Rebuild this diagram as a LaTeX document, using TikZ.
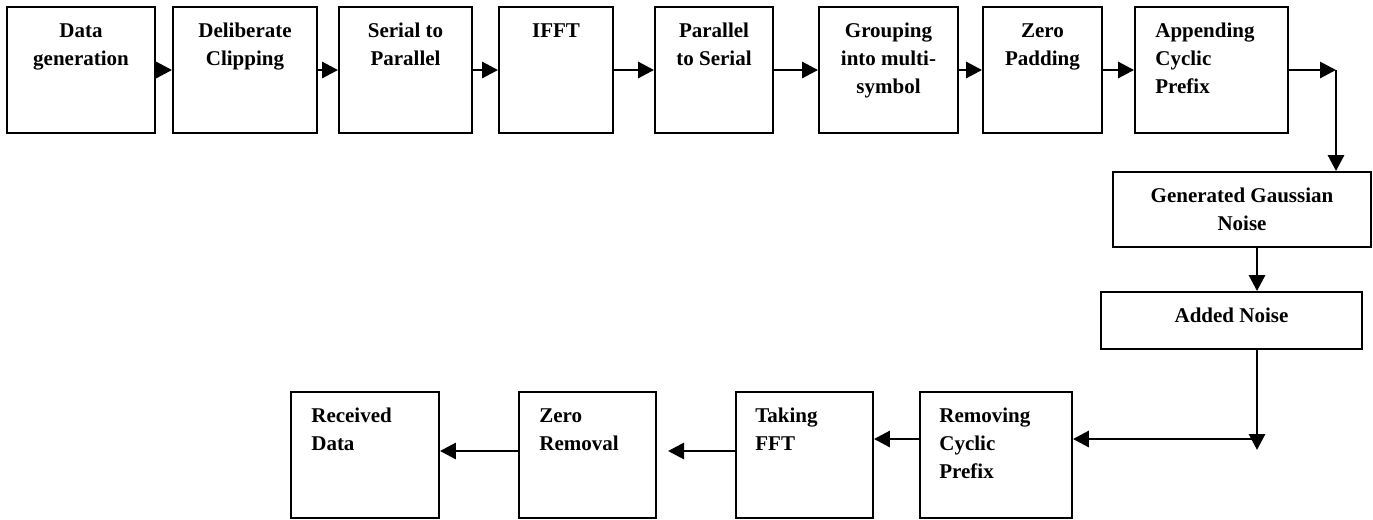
\documentclass[tikz,border=0pt]{standalone}
\usepackage{fontspec}
\setmainfont{Liberation Serif}
\usetikzlibrary{arrows.meta,fit}
\newcommand\mybx[5]{\node[box,fit={(#2,#3) (#4,#5)}] (#1) {};}
\begin{document}
\begin{tikzpicture}[x=0.75pt,y=-0.75pt,
 box/.style={draw,line width=1.4pt,inner sep=0pt},
 lbl/.style={inner sep=0pt,font=\fontsize{15.75}{21}\selectfont\bfseries},
 ctext/.style={lbl,anchor=north,align=center},
 ltext/.style={lbl,anchor=north west,align=left},
 arr/.style={line width=2.2pt,-{Triangle[length=12pt,width=12pt]}}]
\useasboundingbox (0,0) rectangle (1373,519);
% top row
\mybx{b1}{7}{7}{155}{133}
\mybx{b2}{173}{7}{317}{133}
\mybx{b3}{339}{7}{472}{133}
\mybx{b4}{499}{7}{613}{133}
\mybx{b5}{655}{7}{773}{133}
\mybx{b6}{819}{7}{958}{133}
\mybx{b7}{983}{7}{1102}{133}
\mybx{b8}{1135}{7}{1288}{133}
% right column
\mybx{g}{1113}{172}{1371}{247}
\mybx{n}{1101}{292}{1362}{349}
% bottom row
\mybx{rd}{291}{392}{439}{518}
\mybx{zr}{519}{392}{656}{518}
\mybx{tk}{736}{392}{873}{518}
\mybx{rm}{920}{392}{1072}{518}
% texts
\node[ctext] (t1) at ([yshift=-8.5pt]b1.north) {\strut Data\\generation};
\node[ctext] (t2) at ([yshift=-8.5pt]b2.north) {\strut Deliberate\\Clipping};
\node[ctext] (t3) at ([yshift=-8.5pt]b3.north) {\strut Serial to\\Parallel};
\node[ctext] (t4) at ([yshift=-8.5pt]b4.north) {\strut IFFT};
\node[ctext] (t5) at ([yshift=-8.5pt]b5.north) {\strut Parallel\\to Serial};
\node[ctext] (t6) at ([yshift=-8.5pt]b6.north) {\strut Grouping\\into multi-\\symbol};
\node[ctext] (t7) at ([yshift=-8.5pt]b7.north) {\strut Zero\\Padding};
\node[ltext] (t8) at ([xshift=15.75pt,yshift=-8.5pt]b8.north west) {\strut Appending\\Cyclic\\Prefix};
\node[ctext] (tg) at ([yshift=-8.5pt]g.north) {\strut Generated Gaussian\\Noise};
\node[ctext] (tn) at ([yshift=-8.5pt]n.north) {\strut Added Noise};
\node[ltext] (trd) at ([xshift=15.75pt,yshift=-8.5pt]rd.north west) {\strut Received\\Data};
\node[ltext] (tzr) at ([xshift=15.75pt,yshift=-8.5pt]zr.north west) {\strut Zero\\Removal};
\node[ltext] (ttk) at ([xshift=15pt,yshift=-8.5pt]tk.north west) {\strut Taking\\FFT};
\node[ltext] (trm) at ([xshift=15pt,yshift=-8.5pt]rm.north west) {\strut Removing\\Cyclic\\Prefix};
% connectors
\draw[arr] (b1.east) -- (b2.west);
\draw[arr] (b2.east) -- (b3.west);
\draw[arr] (b3.east) -- (b4.west);
\draw[arr] (b4.east) -- (b5.west);
\draw[arr] (b5.east) -- (b6.west);
\draw[arr] (b6.east) -- (b7.west);
\draw[arr] (b7.east) -- (b8.west);
\coordinate (c1) at (1336,70);
\draw[arr] (b8.east) -- (c1);
\draw[arr] (c1) -- (c1 |- g.north);
\coordinate (c2) at (1257,450);
\draw[arr] (c2 |- g.south) -- (c2 |- n.north);
\draw[arr] (c2 |- n.south) -- (c2);
\coordinate (c3) at (1257,439);
\draw[arr] (c3) -- (rm.east |- c3);
\draw[arr] (rm.west |- c3) -- (tk.east |- c3);
\coordinate (c4) at (668,451);
\draw[arr] (tk.west |- c4) -- (c4);
\draw[arr] (zr.west |- c4) -- (rd.east |- c4);
\end{tikzpicture}
\end{document}
